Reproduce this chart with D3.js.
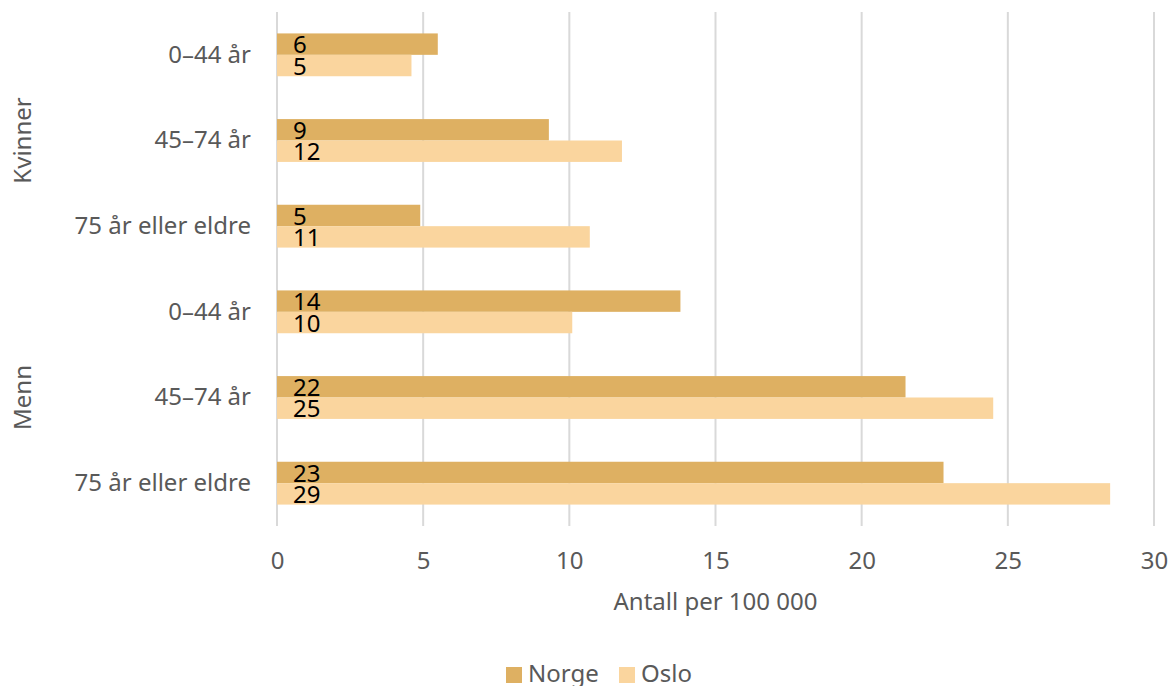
<!DOCTYPE html>
<html><head><meta charset="utf-8">
<script src="https://cdn.jsdelivr.net/npm/d3@7"></script>
<style>body{margin:0;background:#fff;} text{font-family:"Noto Sans",sans-serif;}</style>
</head><body><svg id="c" width="1172" height="686"></svg>
<script>
const groups = ["Kvinner","Kvinner","Kvinner","Menn","Menn","Menn"];
const categories = ["0–44 år","45–74 år","75 år eller eldre","0–44 år","45–74 år","75 år eller eldre"];
const norge = [5.5, 9.3, 4.9, 13.8, 21.5, 22.8];
const oslo = [4.6, 11.8, 10.7, 10.1, 24.5, 28.5];
const norgeLabels = ["6","9","5","14","22","23"];
const osloLabels = ["5","12","11","10","25","29"];
const xTicks = [0,5,10,15,20,25,30];
const seriesNames = ["Norge","Oslo"];
const colors = ["#DEB062","#FAD59E"];

(function(){
const svg = d3.select("#c");
const FS = 24;
const mLeft = 277, mRight = 1154, mTop = 12, mBottom = 526;
const x = d3.scaleLinear().domain([0,30]).range([mLeft,mRight]);
const idx = d3.range(categories.length);
const y = d3.scaleBand().domain(idx).range([mTop,mBottom]).paddingInner(0.5).paddingOuter(0.25);
const ys = d3.scaleBand().domain([0,1]).range([0,y.bandwidth()]);

svg.append("g").selectAll("line").data(xTicks).join("line")
  .attr("x1",d=>x(d)).attr("x2",d=>x(d)).attr("y1",mTop).attr("y2",mBottom)
  .attr("stroke","#d9d9d9").attr("stroke-width",2);

const series = [norge, oslo];
const labels = [norgeLabels, osloLabels];
series.forEach((vals,s)=>{
  svg.append("g").selectAll("rect").data(idx).join("rect")
    .attr("x",x(0)).attr("y",i=>y(i)+ys(s)).attr("width",i=>x(vals[i])-x(0))
    .attr("height",ys.bandwidth()).attr("fill",colors[s]);
});
series.forEach((vals,s)=>{
  svg.append("g").selectAll("text").data(idx).join("text")
    .attr("x",x(0)+16).attr("y",i=>y(i)+ys(s)+ys.bandwidth()-1.5)
    .attr("font-size",FS).attr("fill","#000").text(i=>labels[s][i]);
});

const xAxis = d3.axisBottom(x).tickValues(xTicks).tickSize(0).tickPadding(0);
const gx = svg.append("g").attr("transform",`translate(0,${mBottom+43})`).call(xAxis);
gx.select(".domain").remove();
gx.selectAll("text").attr("font-size",FS).attr("fill","#595959").attr("font-family","Noto Sans").attr("dy",0);

const yAxis = d3.axisLeft(y).tickFormat(i=>categories[i]).tickSize(0).tickPadding(0);
const gy = svg.append("g").attr("transform",`translate(251,0)`).call(yAxis);
gy.select(".domain").remove();
gy.selectAll("text").attr("font-size",FS).attr("fill","#595959").attr("font-family","Noto Sans");

const groupNames = Array.from(new Set(groups));
groupNames.forEach(g=>{
  const ids = idx.filter(i=>groups[i]===g);
  const cy = (y(ids[0]) + y(ids[ids.length-1]) + y.bandwidth())/2;
  svg.append("text").attr("transform",`translate(31,${cy}) rotate(-90)`)
    .attr("text-anchor","middle").attr("font-size",FS).attr("fill","#595959").text(g);
});

svg.append("text").attr("x",(mLeft+mRight)/2).attr("y",610).attr("text-anchor","middle")
  .attr("font-size",FS).attr("fill","#595959").text("Antall per 100 000");

const leg = svg.append("g");
const legX = [506, 619];
seriesNames.forEach((n,s)=>{
  leg.append("rect").attr("x",legX[s]).attr("y",667).attr("width",16).attr("height",16).attr("fill",colors[s]);
  leg.append("text").attr("x",legX[s]+22).attr("y",682).attr("font-size",FS).attr("fill","#595959").text(n);
});
})();
</script></body></html>
